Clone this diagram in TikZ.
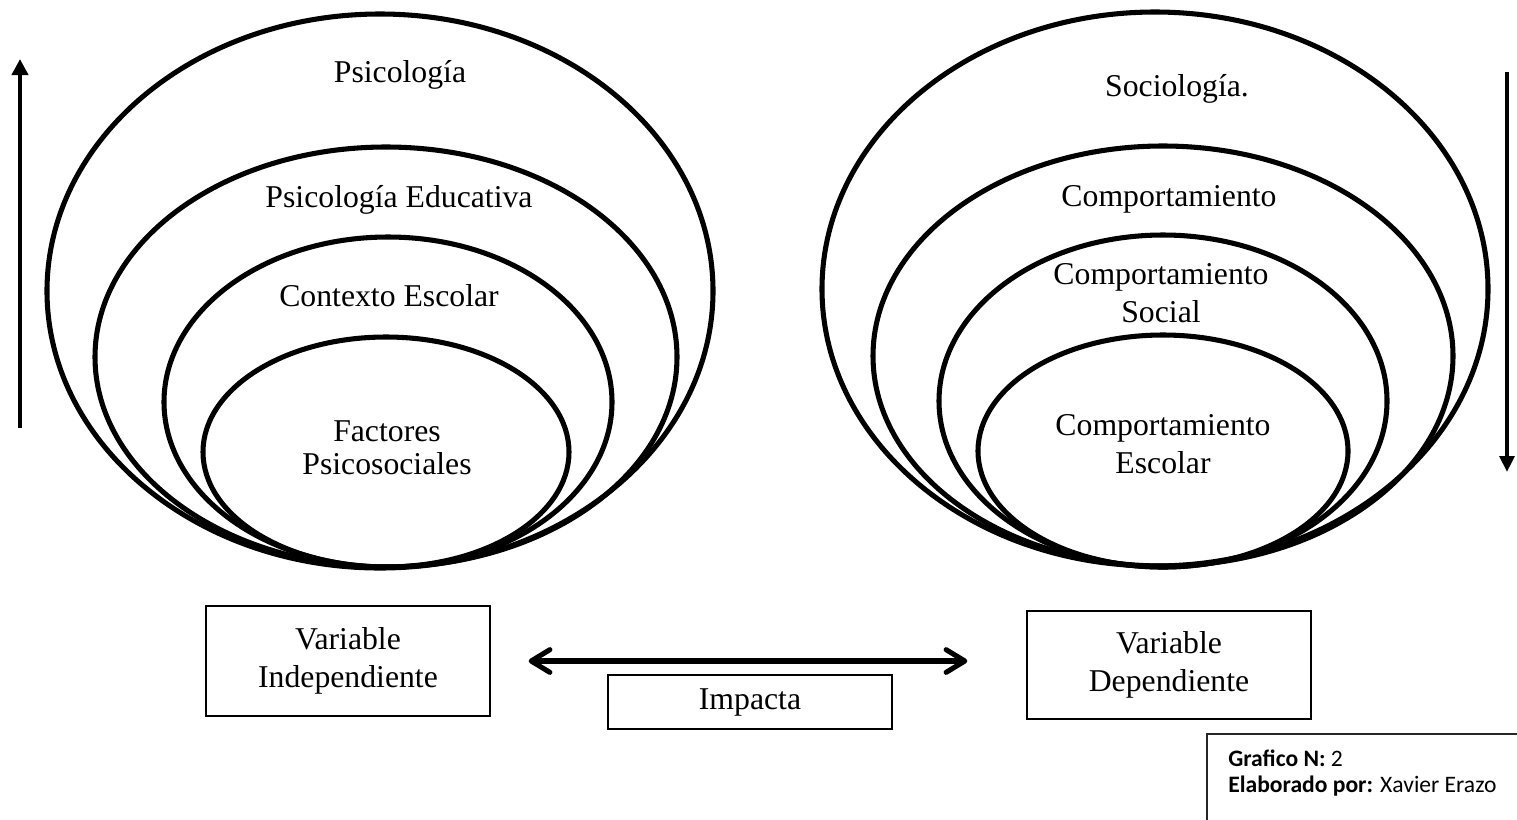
\documentclass[tikz,border=0pt]{standalone}
\usepackage{fontspec}
\setmainfont{Liberation Serif}
\newfontfamily\infofont{Carlito}
\usepackage{tikz}
\usetikzlibrary{positioning, arrows, arrows.meta}

\begin{document}
\begin{tikzpicture}[x=0.75pt, y=-0.75pt,
  anillo/.style={line width=3.8pt},
  etiq/.style={font=\fontsize{23.8}{29}\selectfont, align=center, inner sep=0pt},
  caja/.style={draw, line width=1pt, minimum width=213pt, align=center,
    font=\fontsize{23.8}{29}\selectfont}]
\useasboundingbox (0,0) rectangle (1517,819);

% Left nest of ellipses
\foreach \cx/\cy/\rx/\ry in {380/291/333/277, 386/357/291/210, 388/402/224/165, 386/452/183/115}
  \draw[anillo] (\cx,\cy) ellipse [x radius=\rx, y radius=\ry];
\node[etiq] (psi) at (400,75) {Psicología};
\node[etiq] (psiedu) at (399,200) {Psicología Educativa};
\node[etiq] (ctx) at (389,296) {Contexto Escolar};
\node[etiq, font=\fontsize{23.8}{25}\selectfont] (fact) at (387,448) {Factores\\Psicosociales};

% Right nest of ellipses
\foreach \cx/\cy/\rx/\ry in {1155/289/333/277, 1163/356/290/210, 1163/401/224/166, 1163/451/185/116}
  \draw[anillo] (\cx,\cy) ellipse [x radius=\rx, y radius=\ry];
\node[etiq] (soc) at (1177,89) {Sociología.};
\node[etiq] (comp) at (1169,199) {Comportamiento};
\node[etiq] (compsoc) at (1161,293) {Comportamiento\\Social};
\node[etiq] (compesc) at (1163,444) {Comportamiento\\Escolar};

% Side arrows
\coordinate (subeA) at (20,428);
\coordinate (subeB) at (20,59);
\draw[line width=3.6pt, -{Triangle[length=12pt,width=12pt]}] (subeA) -- (subeB);
\coordinate (bajaA) at (1507,72);
\coordinate (bajaB) at (1507,472);
\draw[line width=3.6pt, -{Triangle[length=12pt,width=11pt]}] (bajaA) -- (bajaB);

% Variables
\node[caja, minimum height=82.5pt] (vi) at (348,661) {Variable\\Independiente};
\node[caja, minimum height=81pt] (vd) at (1169,665) {Variable\\Dependiente};
\node[caja, minimum height=40.5pt] (imp) at (750,702) {Impacta};
\draw[line width=3.8pt, {Straight Barb[round,length=14pt,width=17pt]}-{Straight Barb[round,length=14pt,width=17pt]},
  shorten <=28.5pt, shorten >=44.25pt] (vi.east) -- (vi.east -| vd.west);

% Note
\draw[line width=0.8pt, black!85] (1207,734) rectangle (1540,840);
\node[anchor=north west, inner sep=0pt, align=left, font=\infofont\fontsize{17.7}{19.5}\selectfont]
  (info) at (1228,750) {\textbf{Grafico N:} 2\\\textbf{Elaborado por:} Xavier Erazo};
\end{tikzpicture}
\end{document}
